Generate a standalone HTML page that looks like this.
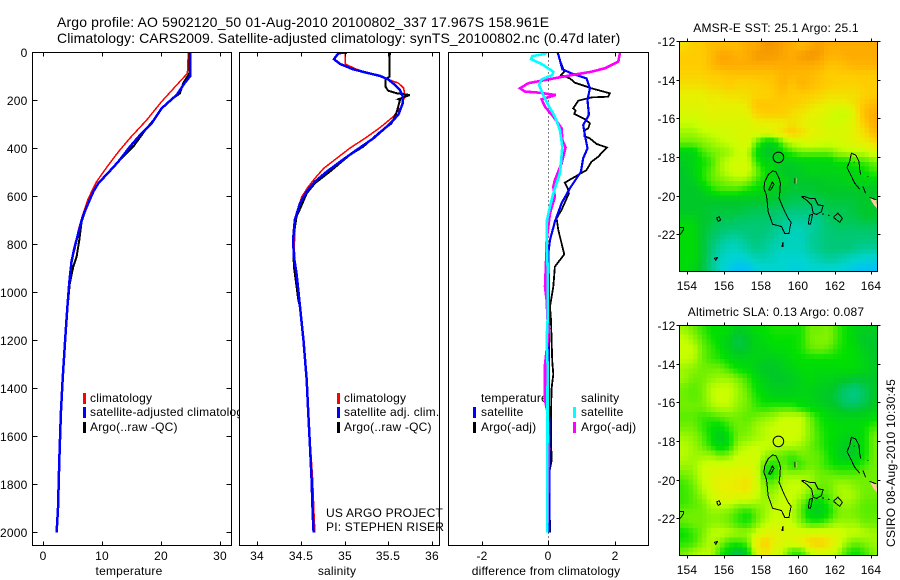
<!DOCTYPE html>
<html lang="en">
<head>
<meta charset="utf-8">
<title>Argo profile chart</title>
<style>
html,body{margin:0;padding:0;background:#fff;}
svg{display:block;}
text{font-family:"Liberation Sans",sans-serif;font-size:12px;fill:#000;letter-spacing:0.2px;}
.line{fill:none;shape-rendering:crispEdges;stroke-linejoin:miter;}
.crisp{shape-rendering:crispEdges;}
</style>
</head>
<body>
<svg id="chart" xmlns="http://www.w3.org/2000/svg" width="900" height="580" viewBox="0 0 900 580">
  <rect x="0" y="0" width="900" height="580" fill="#fff"/>
  <defs>
    <clipPath id="clip-t"><rect x="32" y="52" width="200" height="494"/></clipPath>
    <clipPath id="clip-s"><rect x="239" y="52" width="201" height="494"/></clipPath>
    <clipPath id="clip-d"><rect x="448" y="52" width="201" height="494"/></clipPath>
    <clipPath id="clip-m1"><rect x="679.5" y="41" width="198" height="230"/></clipPath>
    <clipPath id="clip-m2"><rect x="679.5" y="325" width="198" height="230"/></clipPath>
  </defs>
  <text x="57" y="27" style="font-size:14px;letter-spacing:0.14px">Argo profile: AO 5902120_50 01-Aug-2010 20100802_337 17.967S 158.961E</text>
  <text x="57" y="43" style="font-size:14px;letter-spacing:0.09px">Climatology: CARS2009. Satellite-adjusted climatology: synTS_20100802.nc (0.47d later)</text>
  <g id="layer-temp"></g>
  <g id="layer-sal"></g>
  <g id="layer-diff"></g>
  <g id="layer-map1"></g>
  <g id="layer-map2"></g>
  <text x="776" y="32" text-anchor="middle">AMSR-E SST: 25.1 Argo: 25.1</text>
  <text x="776" y="316" text-anchor="middle">Altimetric SLA: 0.13 Argo: 0.087</text>
  <text x="0" y="0" transform="translate(895,547) rotate(-90)" style="letter-spacing:0.28px">CSIRO 08-Aug-2010 10:30:45</text>
</svg>
<script>
// ---------- tick labels ----------
const depthTicks = [0,200,400,600,800,1000,1200,1400,1600,1800,2000];
const tempTicks = [0,10,20,30];
const salTicks = [34,34.5,35,35.5,36];
const diffTicks = [-2,0,2];
const lonTicks = [154,156,158,160,162,164];
const latTicks = [-12,-14,-16,-18,-20,-22];

// ---------- temperature profiles ----------
const climTDepth = [0,87,135,205,281,358,413,469,538,608,677,740,816,872,962,1059,1200,1365,1500,1700,1900,2000];
const climTValue = [24.66,24.5,22.7,20.1,17.6,14.7,12.8,11.05,9.07,7.65,6.7,5.95,5.4,4.8,4.4,4.1,3.7,3.29,3.0,2.7,2.44,2.27];
const satTDepth = [0,98,126,177,195,233,295,344,392,455,501,545,580,628,684,753,816,872,962,1059,1200,1365,1500,1700,1900,2000];
const satTValue = [25,25,24.09,22.68,21.83,20.12,18.42,16.44,14.74,12.76,11.05,9.35,8.5,7.65,6.69,5.95,5.27,4.8,4.4,4.1,3.7,3.29,3.0,2.72,2.5,2.27];
const argoTDepth = [0,87,128,170,195,233,274,316,392,448,501,545,580,642,705,781,851,892,962,1059,1200,1365,1500,1700,1900,2000];
const argoTValue = [24.83,24.83,23.8,23.24,21.83,20.12,19,17.57,15.3,13.04,11.05,9.35,8.5,7.37,6.52,6.12,5.67,5.1,4.5,4.14,3.7,3.29,3.0,2.75,2.5,2.27];

// ---------- salinity profiles ----------
const climSDepth = [0,48,70,84,98,112,128,149,184,226,267,312,353,399,441,483,524,559,601,656,726,809,892,962,1059,1200,1365,1504,1642,1781,1920,2000];
const climSValue = [35.006,35.006,35.14,35.254,35.41,35.5,35.62,35.68,35.69,35.65,35.56,35.41,35.254,35.06,34.91,34.76,34.66,34.585,34.51,34.46,34.43,34.425,34.43,34.46,34.49,34.53,34.57,34.59,34.61,34.635,34.65,34.66];
const satSDepth = [0,3,28,48,70,84,98,112,135,156,184,212,260,309,358,406,455,497,538,580,628,698,781,851,920,990,1059,1200,1365,1504,1642,1781,1920,2000];
const satSValue = [35.03,34.93,34.88,34.95,35.1,35.254,35.41,35.5,35.58,35.635,35.67,35.667,35.617,35.484,35.33,35.14,34.95,34.795,34.66,34.566,34.49,34.43,34.41,34.42,34.45,34.47,34.49,34.53,34.566,34.585,34.604,34.623,34.635,34.646];
const argoSDepth = [0,101,112,142,159,170,177,195,198,247,295,330,392,427,497,545,587,635,684,781,892,948,1031,1059,1200,1365,1504,1642,1781,1920,2000];
const argoSValue = [35.52,35.515,35.47,35.47,35.5,35.6,35.75,35.617,35.636,35.6,35.54,35.41,35.216,35.06,34.83,34.66,34.566,34.51,34.45,34.41,34.42,34.44,34.47,34.49,34.53,34.566,34.585,34.604,34.623,34.635,34.646];

// ---------- differences from climatology ----------
const diffTSatDepth = [0,31,70,87,108,149,198,260,302,344,399,441,497,566,628,705,781,837,1000,2000];
const diffTSatValue = [0.28,0.35,0.42,0.7,1.15,1.25,1.18,1.22,1.05,1.1,1.18,1.05,0.98,0.65,0.4,0.2,0.05,0,0.02,0.03];
const diffTArgoDepth = [0,31,80,94,108,126,149,170,184,187,201,233,242,256,278,295,316,326,348,358,381,396,434,455,490,542,566,587,656,691,740,841,892,976,1059,1115,1200,1290,1340,1400,1500,1600,1700,1750,2000];
const diffTArgoValue = [0.28,0.35,0.48,0.38,0.65,0.8,1.3,1.85,1.8,1.3,0.9,0.75,0.82,0.78,1.1,1.25,1.2,1.08,1.08,1.25,1.45,1.76,1.5,1.3,1.15,0.5,0.58,0.62,0.4,0.25,0.3,0.48,0.2,0.15,0.05,0.08,0.1,0.12,0.15,0.1,0.08,0.08,0.1,0.03,0.05];
const diffSSatDepth = [0,6,15,28,48,80,94,112,135,177,219,267,323,392,462,503,587,642,698,781,892,1115,1200,1300,2000];
const diffSSatValue = [-0.05,-0.1,-0.48,-0.52,-0.2,0.15,0.12,-0.2,-0.28,-0.15,0,0.2,0.35,0.42,0.38,0.35,0.15,0.05,-0.04,-0.05,-0.02,-0.02,-0.05,-0.02,-0.03];
const diffSArgoDepth = [0,38,66,80,94,112,128,149,163,167,177,195,226,267,316,365,396,462,531,559,601,670,781,878,976,1031,1115,1150,1300,1450,1500,1650,1750,2000];
const diffSArgoValue = [2.155,2.105,1.7,1.3,0.7,0,-0.6,-0.85,-0.7,-0.3,0.23,-0.2,-0.1,0.15,0.4,0.42,0.52,0.4,0.2,0.15,0.2,0.05,-0.05,-0.07,-0.1,-0.05,-0.02,0.02,-0.1,-0.1,-0.02,0.02,0,-0.03];

// ---------- map grids (colour-scale units 0..10, 0.5 degree) ----------
const sstGrid = [
[7.5,8,8,8.5,8.5,8.5,8.5,9,9,9.7,9.7,9.3,9,8.5,9,9.5,9,9,9,9,9,9],
[8,8,8,8.5,9.2,9.2,8.8,9,9.6,9.6,9.5,9.3,9,9.5,9.8,9.5,8.8,8.8,9,9,9,9],
[8,8,8,8.5,9,9,9,9,9,9,9,9,9,9,9,8.8,8.3,8.3,8.5,8.8,8.8,8.8],
[7.8,7.8,7.8,8,8,8.2,8.2,8.2,8.3,8.3,8.3,8.8,8.6,8.6,8.6,8.3,8,8,8,8,8,8],
[7.5,7.5,7.5,7.8,7.8,8,7.8,7.8,7.8,8,8.2,8.8,8.2,8.8,8.5,8.2,8,7.8,7.8,7.8,8,8],
[7,7,7,7.2,7.3,7.5,7.5,7.5,7.8,7.8,8,8.3,8,8,8,7.8,7.5,7.5,7.5,7.5,7.8,8],
[6.8,6.8,6.8,7,7,7,7,7.3,8.2,8.2,8.2,8,8,7.8,7.5,7.2,7,7,7,7.5,8.2,8.5],
[6.5,6.5,6.5,6.8,6.8,6.8,6.8,6.8,7.8,8,8,8,7.5,7.3,7,6.8,6.5,6,6,7,8.5,9],
[6,6,6.3,6.5,6.5,6.5,6.5,6.5,6.8,7,7,7,7.5,7,6.8,6.5,6.3,6.2,6.5,7,8,9],
[5.5,5.5,5.8,6,6.2,6.3,6.5,6.5,6.5,6.5,6.8,7.5,8,7.5,7,6.8,6.5,6.5,6.5,7,7.5,8.5],
[5,5,5.2,5.5,5.8,6,6.3,6.5,5,3.5,3.5,5,6,6.3,6.5,6.3,6.2,6.3,6.5,6.8,7,7.5],
[3.5,3.5,4.5,5,5.2,5.5,6,6,4,3,3,4,4.5,5,5,5,5,5.5,5.8,5.8,6,6.5],
[3.2,3.5,4,4.5,5.5,6,6.3,6.3,4.5,3.5,3.5,3.2,3.2,3.5,3.5,3.5,3.5,4,4,4.5,4.5,5],
[3,3.5,4.2,4.8,5.5,6,6.3,6.2,5.2,4,3.5,3,3,3.2,3.5,3.5,3.5,3.5,3.5,3.5,4,4.5],
[3,3.2,4,4.8,5,5.3,5.5,5.3,4.5,4,3.8,3.5,3,3,3,3,3.2,3.2,3.5,3.5,3.5,3.5],
[3,3,3.2,4,4.5,4.5,4.5,4,3.8,3.5,3.2,3,2.8,2.8,2.8,3,3,3,3,3,3,3],
[3,3,3,3,3,3,3,3,3,3,2.8,2.8,2.5,2.5,2.5,2.5,2.8,2.8,2.8,2.8,3,3],
[3,3,3,2.8,2.8,2.8,2.8,2.6,2.5,2.5,2.3,2.2,2,2,2,2,2.5,2.5,2.5,2.8,3,3],
[3.5,3.5,3,2.8,2.5,2.5,2.3,2.2,2.2,2.2,2,1.8,1.6,1.6,1.6,1.8,2.2,2.5,2.5,2.5,2.8,2.8],
[3.8,3.8,3,2.5,2.2,2,2,2,2,2,1.8,1.6,1.3,1.3,1.5,1.8,2,2.2,2.2,2.2,2.2,2.2],
[3.8,3.8,3,2.2,1.8,1.5,1.5,1.8,2,1.8,1.6,1.3,1.2,1.2,1.6,1.8,2,2,2,2,2,2],
[3.8,3.8,3,2,1.5,1.2,1.2,1.5,1.8,1.6,1.3,1.2,1.2,1.2,1.5,1.8,2,2,2,1.8,1.6,1.6],
[3.8,3.8,3,1.8,1.2,1,0.8,1,1.3,1.3,1.2,1,1,1,1.2,1.4,1.6,1.5,1.3,1.1,1,0.9],
[3.8,3.5,2.8,1.8,1.2,0.6,0.2,0.3,0.8,1,1,1,0.8,0.8,1,1,1,1,0.8,0.5,0.3,0.2]
];
const slaGrid = [
[5.5,5,4.5,4,4,3.8,3.2,3.5,3.8,4,4.2,4.2,4.2,4.2,5,5,5.2,4.5,4,3.5,3.3,3.3],
[6,5.5,4.8,4.2,3.8,3.3,2.5,3,3.5,3.8,4,4,4,4.2,5,5.2,5.2,4.5,4,3.5,3,3],
[6,6,5,4.5,4,3.3,2.8,3,3.5,3.5,3.8,3.8,4,4.2,4.8,5,4.8,4.3,4,3.8,3.2,3],
[6,5.8,5,4.5,4.3,3.8,3.5,3.5,3.5,3.3,3.3,3.5,3.8,4,4,4,4,4,4,3.8,3.5,3],
[5.5,5.3,5,5,5,4.5,4,3.8,3.3,3,3,3.3,3.5,3.8,3.8,3.8,3.8,3.8,3.8,3.8,3.5,3.2],
[5.5,5,5,5.3,5.5,5.5,5,4.5,3.8,3.3,3,3,3.2,3.5,3.8,3.5,3.5,3.3,3.2,3,3,3],
[5,4.8,5,5.8,6,6,5.5,4.8,4,3.5,3.2,3.2,3.3,3.5,3.5,3.3,3.2,2.8,2.3,2,2.5,3],
[5,4.8,5,5.8,6.2,6,5.5,5,4.3,3.8,3.5,3.5,3.5,3.5,3.5,3.2,3,2.5,2,1.8,2.3,3],
[5,5,5,5.5,5.8,5.8,5.3,5,4.5,4.3,4.5,4.5,4.5,4,3.8,3.5,3.3,3,2.5,2.5,2.8,3.2],
[4.8,4.8,4.5,4.5,4.8,5,5,4.8,5,5.3,5.5,6,6,6,5,4.2,3.8,3.5,3.5,3.5,3.5,3.8],
[5,5,4.5,4,3.8,4.5,5,5,5.5,5.8,6,6.2,6.2,6,5.2,4.3,4,3.8,3.8,3.8,4,4.5],
[5.5,5.3,4.8,4,3.2,4,5,5.2,5.5,5.8,6,6.2,6.2,6,5.2,4.5,4,3.8,3.5,3.5,4,5],
[5.8,5.5,5,4.2,3.5,4,5.5,5.8,6,6,6,5.8,5.8,5.5,5,4.5,4,3.5,3.2,3.2,4,5],
[5.8,5.5,5.5,5.5,5,5.3,6,6.2,6.3,5.5,5,4.8,4.5,5,5,4.8,4.2,3.5,3,3.2,4,5],
[5.5,5.5,6,6.3,6.3,6.3,6.5,6.5,6.3,4.5,4,5,4.2,4.5,5,4.8,4.3,4,4,4,4.5,5],
[5,5.3,6,6.5,6.8,6.8,7,7,6.5,4.2,4,5.5,5.5,5.5,5.5,5,5,4.8,4.8,4.8,5,5],
[4.5,5,5.8,6.5,7,7,7.2,7.5,6.5,5,5,5.8,6,6,5.5,5,5,5.5,5.5,5.2,5,5],
[4.5,4.8,5.5,6.2,6.8,7,7,7,6.3,5.3,5.5,6,6,5.8,5,4.5,4.8,5.5,5.8,5.5,5,5],
[4.5,4.8,5,5.8,6,6,5.5,5.5,5.5,5.5,5.8,6,6,5,4,3.5,4.3,5.2,5.5,5.2,4.8,4.8],
[5,5,5,5.3,5.3,5,4.5,4,4.8,5.5,6,6,5.8,4.8,3.5,3.2,4,5,5.2,5,4.8,4.8],
[4.8,5,5,5.3,5.3,5,4.5,4.2,5,5.8,6.2,6.2,6,5.2,4.5,4.5,5,5.5,5.5,5.5,5,5],
[4,4.5,5,5.8,6,5.8,5.5,5.5,6,6.8,6.8,6.5,6.5,6.5,6.5,6.5,6.5,6.5,6,6,5.8,5.5],
[4.3,4.5,5.2,5.8,5.3,4.5,4.5,4.8,7,8,7,6.5,6.5,7,7.8,8,7.5,6.5,5.5,5,5.2,5.5],
[5,5.5,5.8,5.8,4.5,3.5,2.5,3.5,6.3,7.5,6.5,5.8,4.5,4.5,5.8,6.5,6.3,5.8,4.5,4,4.5,5.2]
];
const colorStops = ["#00bcff","#00d4d0","#00c878","#00c828","#00e000","#70f000","#c8ff00","#e8f000","#ffcc00","#ffac00","#f09000"];

// ---------- coastlines in lon/lat ----------
const coastOutlines = [
[[158.63,-18.72],[158.81,-18.76],[158.99,-19.10],[159.06,-19.36],[159.03,-19.79],[158.99,-20.14],[159.14,-20.48],[159.30,-20.83],[159.48,-21.17],[159.64,-21.38],[159.57,-21.69],[159.53,-21.95],[159.30,-21.95],[159.12,-21.60],[158.63,-21.48],[158.52,-21.17],[158.39,-20.83],[158.34,-20.31],[158.30,-19.97],[158.16,-19.62],[158.21,-19.28],[158.39,-18.93],[158.63,-18.72]],
[[158.42,-19.72],[158.62,-19.30],[158.72,-19.42],[158.52,-19.72],[158.42,-19.72]],
[[160.20,-20.05],[160.38,-20.05],[160.65,-20.14],[160.93,-20.14],[161.11,-20.48],[161.38,-20.52],[161.29,-20.83],[161.02,-20.97],[160.84,-20.91],[160.75,-20.48],[160.47,-20.22],[160.20,-20.05]],
[[160.65,-21.0],[160.80,-20.97],[160.75,-21.26],[160.69,-21.48],[160.58,-21.48],[160.62,-21.17],[160.65,-21.0]],
[[161.97,-21.09],[162.19,-20.91],[162.43,-21.17],[162.28,-21.38],[161.96,-21.14],[161.97,-21.09]],
[[163.37,-19.66],[163.10,-19.36],[162.97,-19.10],[162.68,-18.55],[162.82,-18.24],[162.92,-17.81],[163.15,-17.90],[163.33,-18.24],[163.37,-18.67],[163.42,-18.9]],
[[163.55,-19.53],[163.69,-19.88]],
[[159.13,-22.66],[159.2,-22.41],[159.2,-22.66]],
[[153.57,-21.64],[153.78,-21.64],[153.78,-21.78],[153.64,-21.98],[153.57,-21.98]],
[[155.59,-21.14],[155.74,-21.10],[155.81,-21.26],[155.68,-21.34],[155.59,-21.14]],
[[155.46,-23.24],[155.64,-23.2],[155.55,-23.34],[155.46,-23.24]],
[[161.32,-20.95],[161.42,-20.95]],
[[161.67,-21.0],[161.72,-21.05]],
[[163.05,-18.25],[163.07,-18.28]],
[[163.8,-19.0],[163.82,-19.02]],
[[159.84,-19.10],[159.84,-19.36]],
[[163.91,-20.09],[164.27,-20.22]]
];
const landPatches = [
[[163.91,-20.09],[164.27,-20.22],[164.33,-20.69],[164.13,-20.48],[163.91,-20.09]],
[[159.87,-19.10],[159.94,-19.10],[159.94,-19.36],[159.87,-19.36],[159.87,-19.10]]
];
const floatLon = 158.95;
const floatLat = -18.02;

// ---------- drawing helpers ----------
const NS = "http://www.w3.org/2000/svg";
function mk(parent, tag, name, attrs, txt) {
  const el = document.createElementNS(NS, tag);
  
  
  for (const k in attrs) el.setAttribute(k, attrs[k]);
  if (txt !== undefined) el.textContent = txt;
  parent.appendChild(el);
  return el;
}
const yDepth = d => 52.5 + 0.24 * d;
const xTemp = v => 43.3 + 5.88 * v;
const xSal = v => 257.3 + 87.2 * (v - 34);
const xDiff = v => 548.3 + 33.25 * v;

function series(parent, name, depth, vals, xf, color, w, clip) {
  const pts = depth.map((d, i) => xf(vals[i]).toFixed(1) + "," + yDepth(d).toFixed(1)).join(" ");
  mk(parent, "polyline", name, {"class": "line", points: pts, stroke: color, "stroke-width": w, "clip-path": "url(#" + clip + ")"});
}
function panelFrame(parent, name, x0, x1) {
  mk(parent, "rect", name + "-frame", {"class": "crisp", x: x0, y: 52.5, width: x1 - x0, height: 493, fill: "none", stroke: "#000", "stroke-width": 1});
}
function panelBg(parent, name, x0, x1) {
  mk(parent, "rect", name + "-background", {"class": "crisp", x: x0, y: 52.5, width: x1 - x0, height: 493, fill: "#fff"});
}
function xTicks(parent, name, ticks, xf) {
  ticks.forEach(t => {
    const x = Math.round(xf(t)) + 0.5;
    mk(parent, "line", name + "-tick-top", {"class": "crisp", x1: x, x2: x, y1: 52.5, y2: 56.5, stroke: "#000"});
    mk(parent, "line", name + "-tick-bottom", {"class": "crisp", x1: x, x2: x, y1: 541.5, y2: 545.5, stroke: "#000"});
    mk(parent, "text", name + "-tick-label", {x: x - 0.5, y: 560, "text-anchor": "middle"}, String(t));
  });
}
function legendMark(parent, name, x, y, color) {
  mk(parent, "rect", name, {"class": "crisp", x: x, y: y, width: 3, height: 11, fill: color});
}
function label(parent, name, x, y, s, anchor) {
  mk(parent, "text", name, {x: x, y: y, "text-anchor": anchor || "start"}, s);
}

// ---------- temperature panel ----------
const gT = document.getElementById("layer-temp");
panelBg(gT, "temperature-plot", 32.5, 231.5);
series(gT, "temperature-climatology-line", climTDepth, climTValue, xTemp, "#ff0000", 1.5, "clip-t");
series(gT, "temperature-argo-line", argoTDepth, argoTValue, xTemp, "#000000", 2, "clip-t");
series(gT, "temperature-satellite-line", satTDepth, satTValue, xTemp, "#0000ff", 2.5, "clip-t");
depthTicks.forEach(d => {
  const y = Math.round(yDepth(d) - 0.5) + 0.5;
  if (d > 0) {
    mk(gT, "line", "depth-tick-left", {"class": "crisp", x1: 32.5, x2: 37.5, y1: y, y2: y, stroke: "#000"});
    mk(gT, "line", "depth-tick-right", {"class": "crisp", x1: 226.5, x2: 231.5, y1: y, y2: y, stroke: "#000"});
  }
  mk(gT, "text", "depth-tick-label", {x: 27.5, y: y + 4.5, "text-anchor": "end"}, String(d));
});
xTicks(gT, "temperature", tempTicks, xTemp);
panelFrame(gT, "temperature-plot", 32.5, 231.5);
label(gT, "temperature-axis-title", 129, 575, "temperature", "middle");
legendMark(gT, "legend-climatology-mark", 83, 393, "#ff0000");
legendMark(gT, "legend-satellite-mark", 83, 407, "#0000ff");
legendMark(gT, "legend-argo-mark", 83, 422, "#000000");
label(gT, "legend-climatology-label", 90, 402, "climatology");
label(gT, "legend-satellite-label", 90, 416, "satellite-adjusted climatology");
label(gT, "legend-argo-label", 90, 431, "Argo(..raw -QC)");

// ---------- salinity panel ----------
const gS = document.getElementById("layer-sal");
panelBg(gS, "salinity-plot", 239.5, 439.5);
series(gS, "salinity-climatology-line", climSDepth, climSValue, xSal, "#ff0000", 1.5, "clip-s");
series(gS, "salinity-argo-line", argoSDepth, argoSValue, xSal, "#000000", 2, "clip-s");
series(gS, "salinity-satellite-line", satSDepth, satSValue, xSal, "#0000ff", 2.5, "clip-s");
xTicks(gS, "salinity", salTicks, xSal);
panelFrame(gS, "salinity-plot", 239.5, 439.5);
label(gS, "salinity-axis-title", 337, 575, "salinity", "middle");
legendMark(gS, "salinity-legend-climatology-mark", 337, 393, "#ff0000");
legendMark(gS, "salinity-legend-satellite-mark", 337, 407, "#0000ff");
legendMark(gS, "salinity-legend-argo-mark", 337, 422, "#000000");
label(gS, "salinity-legend-climatology-label", 344, 402, "climatology");
label(gS, "salinity-legend-satellite-label", 344, 416, "satellite adj. clim.");
label(gS, "salinity-legend-argo-label", 344, 431, "Argo(..raw -QC)");
label(gS, "project-label", 326, 517, "US ARGO PROJECT");
label(gS, "pi-label", 326, 531, "PI: STEPHEN RISER");

// ---------- difference panel ----------
const gD = document.getElementById("layer-diff");
panelBg(gD, "difference-plot", 448.5, 648.5);
label(gD, "difference-legend-temperature-heading", 481, 402, "temperature");
label(gD, "difference-legend-salinity-heading", 581, 402, "salinity");
mk(gD, "line", "zero-reference-line", {"class": "crisp", x1: 548.5, x2: 548.5, y1: 52.5, y2: 545.5, stroke: "#000", "stroke-dasharray": "1 3"});
series(gD, "difference-temperature-argo-line", diffTArgoDepth, diffTArgoValue, xDiff, "#000000", 1.8, "clip-d");
series(gD, "difference-temperature-satellite-line", diffTSatDepth, diffTSatValue, xDiff, "#0000ff", 2.2, "clip-d");
series(gD, "difference-salinity-argo-line", diffSArgoDepth, diffSArgoValue, xDiff, "#ff00ff", 2.6, "clip-d");
series(gD, "difference-salinity-satellite-line", diffSSatDepth, diffSSatValue, xDiff, "#00ffff", 2.6, "clip-d");
xTicks(gD, "difference", diffTicks, xDiff);
panelFrame(gD, "difference-plot", 448.5, 648.5);
label(gD, "difference-axis-title", 546, 575, "difference from climatology", "middle");
legendMark(gD, "difference-legend-temperature-satellite-mark", 473, 407, "#0000ff");
legendMark(gD, "difference-legend-temperature-argo-mark", 473, 422, "#000000");
legendMark(gD, "difference-legend-salinity-satellite-mark", 573, 407, "#00ffff");
legendMark(gD, "difference-legend-salinity-argo-mark", 573, 422, "#ff00ff");
label(gD, "difference-legend-temperature-satellite-label", 481, 416, "satellite");
label(gD, "difference-legend-temperature-argo-label", 481, 431, "Argo(-adj)");
label(gD, "difference-legend-salinity-satellite-label", 581, 416, "satellite");
label(gD, "difference-legend-salinity-argo-label", 581, 431, "Argo(-adj)");

// ---------- maps ----------
function hexRgb(h) { return [parseInt(h.slice(1,3),16), parseInt(h.slice(3,5),16), parseInt(h.slice(5,7),16)]; }
function colourOf(v) {
  const c = Math.max(0, Math.min(colorStops.length - 1.001, v));
  const i = Math.floor(c), f = c - i;
  const a = hexRgb(colorStops[i]), b = hexRgb(colorStops[i + 1]);
  return "rgb(" + a.map((q, k) => Math.round(q + (b[k] - q) * f)).join(",") + ")";
}
function sampleGrid(grid, u, v) {
  const rows = grid.length, cols = grid[0].length;
  const r = Math.max(0, Math.min(rows - 1, v)), c = Math.max(0, Math.min(cols - 1, u));
  const r0 = Math.floor(r), c0 = Math.floor(c);
  const r1 = Math.min(rows - 1, r0 + 1), c1 = Math.min(cols - 1, c0 + 1);
  const fr = r - r0, fc = c - c0;
  return (grid[r0][c0] * (1 - fc) + grid[r0][c1] * fc) * (1 - fr) + (grid[r1][c0] * (1 - fc) + grid[r1][c1] * fc) * fr;
}
function drawMap(parent, name, grid, top, clip) {
  const xLon = lon => 687.3 + 18.4 * (lon - 154);
  const yLat = lat => top + 19.33 * (-12 - lat);
  const body = mk(parent, "g", name + "-heatmap", {"clip-path": "url(#" + clip + ")"});
  const subCols = grid[0].length * 2, subRows = grid.length * 2;
  const cw = 18.4 * 0.245, ch = 19.33 * 0.25;
  for (let r = 0; r < subRows; r++) {
    for (let c = 0; c < subCols; c++) {
      const val = sampleGrid(grid, (c - 0.5) / 2, (r - 0.5) / 2);
      const x = 679.5 + c * cw, y = top + r * ch;
      mk(body, "rect", name + "-cell", {"class": "crisp", x: x.toFixed(2), y: y.toFixed(2), width: (cw + 0.4).toFixed(2), height: (ch + 0.4).toFixed(2), fill: colourOf(val)});
    }
  }
  const toPts = poly => poly.map(p => xLon(p[0]).toFixed(1) + "," + yLat(p[1]).toFixed(1)).join(" ");
  landPatches.forEach(poly => {
    mk(body, "polygon", name + "-land-patch", {"class": "crisp", points: toPts(poly), fill: "#ffc8a0"});
  });
  coastOutlines.forEach(poly => {
    mk(body, "polyline", name + "-coastline", {"class": "line", points: toPts(poly), stroke: "#000", "stroke-width": 1});
  });
  mk(body, "circle", name + "-float-marker", {cx: xLon(floatLon).toFixed(1), cy: yLat(floatLat).toFixed(1), r: 5.3, fill: "none", stroke: "#000", "stroke-width": 1});
  const bottom = top + 230.5;
  mk(parent, "rect", name + "-frame", {"class": "crisp", x: 679.5, y: Math.round(top) + 0.5, width: 198, height: 230, fill: "none", stroke: "#000"});
  lonTicks.forEach(t => {
    const x = Math.round(xLon(t)) + 0.5;
    mk(parent, "line", name + "-lon-tick-top", {"class": "crisp", x1: x, x2: x, y1: top - 2.5, y2: top + 0.5, stroke: "#000"});
    mk(parent, "line", name + "-lon-tick-bottom", {"class": "crisp", x1: x, x2: x, y1: bottom, y2: bottom + 3, stroke: "#000"});
    mk(parent, "text", name + "-lon-label", {x: x - 0.5, y: bottom + 18.5, "text-anchor": "middle"}, String(t));
  });
  latTicks.forEach(t => {
    const y = Math.round(yLat(t)) + 0.5;
    mk(parent, "line", name + "-lat-tick-left", {"class": "crisp", x1: 676.5, x2: 679.5, y1: y, y2: y, stroke: "#000"});
    mk(parent, "line", name + "-lat-tick-right", {"class": "crisp", x1: 877.5, x2: 880.5, y1: y, y2: y, stroke: "#000"});
    mk(parent, "text", name + "-lat-label", {x: 675.5, y: y + 4.5, "text-anchor": "end"}, String(t));
  });
}
drawMap(document.getElementById("layer-map1"), "sst", sstGrid, 41, "clip-m1");
drawMap(document.getElementById("layer-map2"), "sla", slaGrid, 325, "clip-m2");
</script>
</body>
</html>
